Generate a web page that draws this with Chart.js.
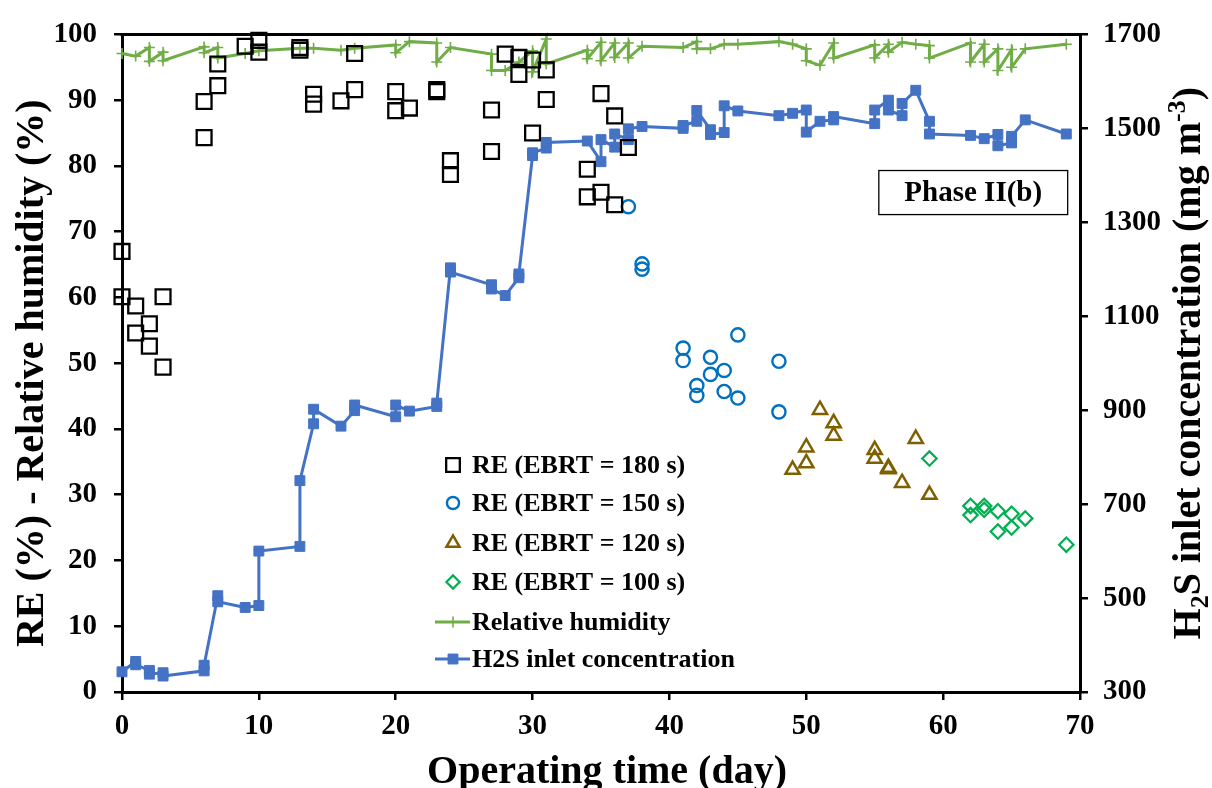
<!DOCTYPE html>
<html>
<head>
<meta charset="utf-8">
<title>RE and H2S inlet concentration vs operating time</title>
<script src="https://cdn.jsdelivr.net/npm/chart.js@4.4.0/dist/chart.umd.min.js"></script>
<style>
  html, body { margin: 0; padding: 0; background: #fff; }
  #wrap { width: 1212px; height: 788px; }
</style>
</head>
<body>
<div id="wrap"><canvas id="chart" width="1212" height="788"></canvas></div>
<script>
const FONT = '"Liberation Serif", "Times New Roman", serif';

// removal efficiency (%) at each EBRT
const days180 = [0, 0, 1, 1, 2, 2, 3, 3, 6, 6, 7, 7, 9, 10, 10, 13, 13, 14, 14, 16, 17, 17, 20, 20, 21, 23, 23, 24, 24, 27, 27, 28, 29, 29, 30, 30, 31, 31, 34, 34, 35, 35, 36, 36, 37];
const re180 = [67.0, 60.1, 58.7, 54.6, 56.0, 52.6, 60.1, 49.4, 89.8, 84.3, 95.5, 92.2, 98.2, 99.1, 97.3, 98.0, 97.6, 90.9, 89.4, 89.9, 97.1, 91.6, 91.3, 88.4, 88.8, 91.6, 91.3, 80.8, 78.7, 88.5, 82.2, 97.0, 96.5, 93.9, 96.1, 85.0, 94.6, 90.1, 79.5, 75.3, 91.0, 76.0, 87.6, 74.1, 82.8];

const days150 = [37, 38, 38, 41, 41, 42, 42, 43, 43, 44, 44, 45, 45, 48, 48];
const re150 = [73.8, 65.1, 64.3, 52.3, 50.4, 46.6, 45.1, 50.9, 48.3, 48.9, 45.7, 54.3, 44.7, 50.3, 42.6];

const days120 = [49, 50, 50, 51, 52, 52, 55, 55, 56, 56, 57, 58, 59];
const re120 = [33.8, 37.2, 34.8, 42.9, 40.9, 39.0, 36.8, 35.5, 34.1, 33.9, 31.8, 38.5, 30.0];

const days100 = [59, 62, 62, 63, 63, 64, 64, 65, 65, 66, 69];
const re100 = [35.5, 28.3, 26.9, 28.3, 27.7, 27.5, 24.4, 27.1, 25.0, 26.4, 22.4];

// relative humidity (%)
const daysRH = [0, 1, 2, 2, 3, 3, 6, 6, 7, 7, 9, 10, 13, 14, 16, 17, 20, 20, 21, 23, 23, 24, 27, 27, 28, 29, 30, 30, 31, 31, 34, 34, 35, 35, 36, 36, 37, 37, 38, 41, 42, 42, 43, 44, 45, 48, 49, 50, 50, 51, 52, 52, 55, 55, 56, 56, 57, 58, 59, 59, 62, 62, 63, 63, 64, 64, 65, 65, 66, 69];
const humidity = [97.1, 96.7, 98.0, 95.9, 97.3, 96.0, 98.1, 97.2, 98.0, 96.4, 97.1, 97.5, 97.9, 97.9, 97.6, 97.9, 98.4, 97.2, 98.9, 98.7, 95.8, 98.0, 97.0, 94.5, 94.5, 95.8, 97.5, 94.3, 99.3, 95.5, 97.6, 96.3, 98.8, 96.0, 98.7, 96.5, 98.7, 96.4, 98.2, 98.0, 98.9, 97.8, 97.8, 98.5, 98.5, 98.9, 98.5, 97.8, 96.0, 95.3, 98.7, 96.4, 98.4, 96.4, 98.5, 97.3, 98.8, 98.5, 98.3, 96.4, 98.7, 95.8, 98.5, 95.8, 97.8, 94.5, 97.7, 95.0, 97.8, 98.5];

// H2S inlet concentration (mg m-3)
const daysH2S = [0, 1, 1, 2, 2, 3, 3, 6, 6, 7, 7, 9, 10, 10, 13, 13, 14, 14, 16, 17, 17, 20, 20, 21, 23, 23, 24, 24, 27, 27, 28, 29, 29, 30, 30, 31, 31, 34, 35, 35, 36, 36, 37, 37, 38, 41, 41, 42, 42, 43, 43, 44, 44, 45, 48, 49, 50, 50, 51, 52, 52, 55, 55, 56, 56, 57, 57, 58, 59, 59, 62, 63, 64, 64, 65, 65, 66, 69];
const h2s = [343, 365, 358, 346, 338, 341, 334, 345, 357, 505, 492, 480, 484, 600, 610, 750, 871, 902, 866, 899, 911, 886, 911, 898, 908, 915, 1203, 1194, 1167, 1158, 1144, 1182, 1190, 1442, 1448, 1458, 1470, 1473, 1429, 1476, 1460, 1488, 1476, 1499, 1504, 1500, 1506, 1515, 1538, 1497, 1487, 1491, 1548, 1537, 1527, 1532, 1539, 1492, 1515, 1518, 1525, 1510, 1539, 1560, 1539, 1527, 1553, 1581, 1515, 1488, 1485, 1478, 1487, 1463, 1469, 1483, 1518, 1488];

const phaseLabel = 'Phase II(b)';

function points(xs, ys) {
    return xs.map((x, i) => ({ x: x, y: ys[i] }));
}

function markerSet(label, xs, ys, style, radius, color, width) {
    return {
        label: label,
        data: points(xs, ys),
        yAxisID: 'y',
        showLine: false,
        pointStyle: style,
        pointRadius: radius,
        pointHoverRadius: radius,
        pointBorderColor: color,
        pointBackgroundColor: 'rgba(0,0,0,0)',
        pointBorderWidth: width,
        clip: false
    };
}

const datasets = [
    markerSet('RE (EBRT = 180 s)', days180, re180, 'rect', 10.5, '#000000', 2.3),
    markerSet('RE (EBRT = 150 s)', days150, re150, 'circle', 6.6, '#0070C0', 2.4),
    markerSet('RE (EBRT = 120 s)', days120, re120, 'triangle', 8.2, '#7F6000', 2.5),
    markerSet('RE (EBRT = 100 s)', days100, re100, 'rectRot', 7.2, '#00B050', 2.2),
    {
        label: 'Relative humidity',
        data: points(daysRH, humidity),
        yAxisID: 'y',
        showLine: true,
        borderColor: '#70AD47',
        borderWidth: 3,
        tension: 0,
        pointStyle: 'cross',
        pointRadius: 5.5,
        pointHoverRadius: 5.5,
        pointBorderColor: '#70AD47',
        pointBorderWidth: 1.6,
        clip: false
    },
    {
        label: 'H2S inlet concentration',
        data: points(daysH2S, h2s),
        yAxisID: 'y1',
        showLine: true,
        borderColor: '#4472C4',
        borderWidth: 3,
        tension: 0,
        pointStyle: 'rect',
        pointRadius: 7,
        pointHoverRadius: 7,
        pointBorderColor: '#4472C4',
        pointBackgroundColor: '#4472C4',
        pointBorderWidth: 1,
        clip: false
    }
];

const tickFont = { family: FONT, size: 29, weight: 'bold' };
const axisGrid = { drawOnChartArea: false, drawTicks: true, tickLength: 8, color: '#000', lineWidth: 2.5 };
const axisBorder = { color: '#000', width: 3 };
const plainTick = v => String(v);

// write text along a rotated baseline, with sub/superscript pieces
function drawRich(ctx, parts, cx, cy, angle, size) {
    ctx.save();
    ctx.translate(cx, cy);
    ctx.rotate(angle);
    ctx.textBaseline = 'middle';
    ctx.textAlign = 'left';
    const small = Math.round(size * 0.65);
    let total = 0;
    parts.forEach(p => {
        ctx.font = 'bold ' + (p.sub || p.sup ? small : size) + 'px ' + FONT;
        p.w = ctx.measureText(p.t).width;
        total += p.w;
    });
    let x = -total / 2;
    parts.forEach(p => {
        ctx.font = 'bold ' + (p.sub || p.sup ? small : size) + 'px ' + FONT;
        let dy = 0;
        if (p.sub) dy = size * 0.28;
        if (p.sup) dy = -size * 0.3;
        ctx.fillText(p.t, x, dy);
        x += p.w;
    });
    ctx.restore();
}

const decorPlugin = {
    id: 'decor',
    afterDraw(chart) {
        const ctx = chart.ctx;
        const area = chart.chartArea;
        const xs = chart.scales.x;
        const ys = chart.scales.y;
        ctx.save();
        ctx.fillStyle = '#000';
        ctx.strokeStyle = '#000';

        // top frame line
        ctx.lineWidth = 3;
        ctx.beginPath();
        ctx.moveTo(area.left - 1.5, area.top);
        ctx.lineTo(area.right + 1.5, area.top);
        ctx.stroke();

        // phase label box
        const bx0 = xs.getPixelForValue(55.3), bx1 = xs.getPixelForValue(69.1);
        const by0 = ys.getPixelForValue(79.3), by1 = ys.getPixelForValue(72.6);
        ctx.lineWidth = 1.3;
        ctx.strokeRect(bx0, by0, bx1 - bx0, by1 - by0);
        ctx.font = 'bold 29px ' + FONT;
        ctx.textAlign = 'center';
        ctx.textBaseline = 'middle';
        ctx.fillText(phaseLabel, (bx0 + bx1) / 2, (by0 + by1) / 2 + 1);

        // legend inside the plot
        const rowY = [465, 503, 543, 582, 622, 659];
        const markX = 453, textX = 472;
        ctx.font = 'bold 26px ' + FONT;
        ctx.textAlign = 'left';
        chart.data.datasets.forEach((ds, i) => {
            const y = rowY[i];
            if (ds.showLine) {
                ctx.strokeStyle = ds.borderColor;
                ctx.lineWidth = 3;
                ctx.beginPath();
                ctx.moveTo(435, y);
                ctx.lineTo(470, y);
                ctx.stroke();
            }
            ctx.strokeStyle = ds.pointBorderColor;
            ctx.fillStyle = ds.pointBackgroundColor;
            ctx.lineWidth = ds.pointBorderWidth;
            const r = ds.showLine ? ds.pointRadius : ds.pointRadius * 0.92;
            Chart.helpers.drawPoint(ctx, { pointStyle: ds.pointStyle, radius: r, rotation: 0, borderWidth: ds.pointBorderWidth }, markX, y);
            ctx.fillStyle = '#000';
            ctx.fillText(ds.label, textX, y + 1);
        });

        // axis titles
        ctx.fillStyle = '#000';
        ctx.font = 'bold 40px ' + FONT;
        ctx.textAlign = 'center';
        ctx.textBaseline = 'alphabetic';
        ctx.fillText('Operating time (day)', (area.left + area.right) / 2 + 6, 783);
        drawRich(ctx, [{ t: 'RE (%) - Relative humidity (%)' }], 33, (area.top + area.bottom) / 2 + 10, -Math.PI / 2, 40);
        drawRich(ctx, [
            { t: 'H' }, { t: '2', sub: true }, { t: 'S inlet concentration (mg m' },
            { t: '-3', sup: true }, { t: ')' }
        ], 1190, (area.top + area.bottom) / 2, -Math.PI / 2, 40);
        ctx.restore();
    }
};

new Chart(document.getElementById('chart'), {
    type: 'scatter',
    data: { datasets: datasets },
    options: {
        responsive: false,
        animation: false,
        layout: { padding: { top: 25, left: 0, right: 0, bottom: 0 } },
        plugins: {
            legend: { display: false },
            tooltip: { enabled: false }
        },
        scales: {
            x: {
                type: 'linear',
                min: 0,
                max: 70,
                ticks: { stepSize: 10, font: tickFont, color: '#000', padding: 9, maxRotation: 0, callback: plainTick },
                grid: axisGrid,
                border: axisBorder,
                afterFit: s => { s.height = 96; }
            },
            y: {
                position: 'left',
                min: 0,
                max: 100,
                ticks: { stepSize: 10, font: tickFont, color: '#000', padding: 17, callback: plainTick },
                grid: axisGrid,
                border: axisBorder,
                afterFit: s => { s.width = 122; }
            },
            y1: {
                position: 'right',
                min: 300,
                max: 1700,
                ticks: { stepSize: 200, font: tickFont, color: '#000', padding: 15, callback: plainTick },
                grid: axisGrid,
                border: axisBorder,
                afterFit: s => { s.width = 132; }
            }
        }
    },
    plugins: [decorPlugin]
});
</script>
</body>
</html>
